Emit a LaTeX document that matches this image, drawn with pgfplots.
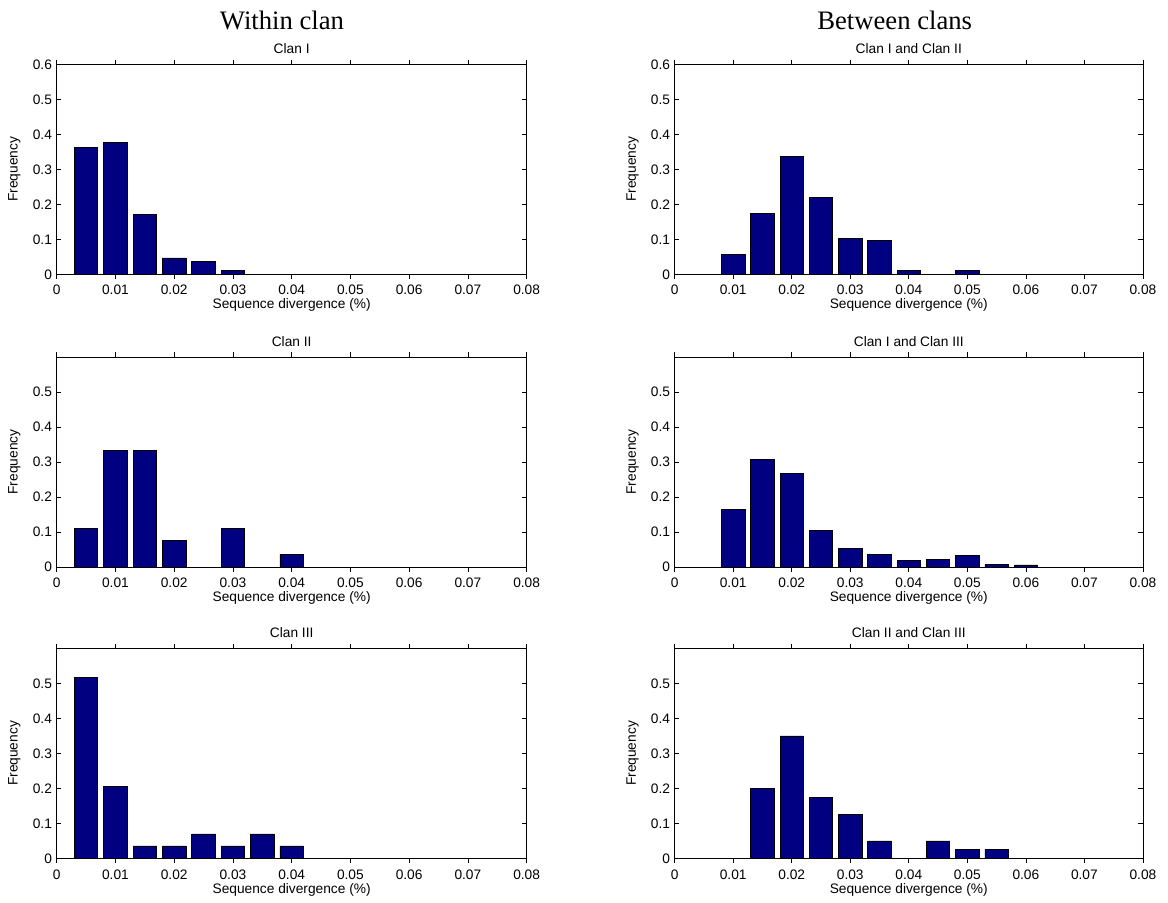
\documentclass[border=0pt]{standalone}
\usepackage{fontspec}
\setmainfont{Liberation Sans}
\newfontfamily\timesfont{Liberation Serif}
\usepackage{pgfplots}
\pgfplotsset{compat=1.18}
\definecolor{barblue}{RGB}{0,0,128}
\pgfplotsset{
  every axis title shift=0pt,
  hp/.style={
    scale only axis,
    height=157.5pt,
    xmin=0, xmax=0.08, ymin=0, ymax=0.6,
    scaled ticks=false,
    xtick={0,0.01,0.02,0.03,0.04,0.05,0.06,0.07,0.08},
    xticklabels={0,0.01,0.02,0.03,0.04,0.05,0.06,0.07,0.08},
    tick align=inside,
    major tick length=3.5pt,
    tick style={black, line width=0.5pt},
    axis line style={black, line width=0.6pt},
    font=\fontsize{10.3}{12}\selectfont,
    ticklabel style={font=\fontsize{10.3}{12}\selectfont},
    xticklabel style={anchor=base, yshift=-12pt},
    xlabel={Sequence divergence (\%)},
    ylabel={Frequency},
    xlabel style={at={(axis description cs:0.5,0)}, anchor=base, yshift=-26pt},
    ylabel style={at={(axis description cs:-0.09,0.5)}, anchor=center},
    title style={at={(axis description cs:0.5,1)}, anchor=base, yshift=8pt},
    ybar, bar width=0.004,
    cycle list={{fill=barblue, draw=black, line width=0.5pt}},
  },
  top/.style={ytick={0,0.1,0.2,0.3,0.4,0.5,0.6}, yticklabels={0,0.1,0.2,0.3,0.4,0.5,0.6}},
  low/.style={ytick={0,0.1,0.2,0.3,0.4,0.5}, yticklabels={0,0.1,0.2,0.3,0.4,0.5}},
}
\begin{document}
\begin{tikzpicture}
\path[use as bounding box] (0,0) rectangle (876pt,677.25pt);
\node[anchor=base, font=\timesfont\fontsize{20}{24}\selectfont] at (211.5pt,655pt) {Within clan};
\node[anchor=base, font=\timesfont\fontsize{20}{24}\selectfont] at (671pt,655pt) {Between clans};

% Row 1
\begin{axis}[hp, top, width=352.5pt, at={(42.5pt,471.5pt)}, anchor=south west, title={Clan I}]
\addplot[fill=barblue, draw=black, line width=0.5pt] coordinates {(0.005,0.363) (0.010,0.378) (0.015,0.171) (0.020,0.047) (0.025,0.038) (0.030,0.010)};
\end{axis}
\begin{axis}[hp, top, width=351.2pt, at={(506pt,471.5pt)}, anchor=south west, title={Clan I and Clan II}]
\addplot[fill=barblue, draw=black, line width=0.5pt] coordinates {(0.010,0.056) (0.015,0.174) (0.020,0.337) (0.025,0.220) (0.030,0.102) (0.035,0.097) (0.040,0.010) (0.050,0.010)};
\end{axis}

% Row 2
\begin{axis}[hp, low, width=352.5pt, at={(42.5pt,252pt)}, anchor=south west, title={Clan II}]
\addplot[fill=barblue, draw=black, line width=0.5pt] coordinates {(0.005,0.111) (0.010,0.334) (0.015,0.334) (0.020,0.075) (0.030,0.111) (0.040,0.037)};
\end{axis}
\begin{axis}[hp, low, width=351.2pt, at={(506pt,252pt)}, anchor=south west, title={Clan I and Clan III}]
\addplot[fill=barblue, draw=black, line width=0.5pt] coordinates {(0.010,0.164) (0.015,0.307) (0.020,0.267) (0.025,0.105) (0.030,0.052) (0.035,0.037) (0.040,0.019) (0.045,0.022) (0.050,0.034) (0.055,0.007) (0.060,0.006)};
\end{axis}

% Row 3
\begin{axis}[hp, low, width=352.5pt, at={(42.5pt,33.4pt)}, anchor=south west, title={Clan III}]
\addplot[fill=barblue, draw=black, line width=0.5pt] coordinates {(0.005,0.518) (0.010,0.207) (0.015,0.036) (0.020,0.036) (0.025,0.070) (0.030,0.036) (0.035,0.070) (0.040,0.036)};
\end{axis}
\begin{axis}[hp, low, width=351.2pt, at={(506pt,33.4pt)}, anchor=south west, title={Clan II and Clan III}]
\addplot[fill=barblue, draw=black, line width=0.5pt] coordinates {(0.015,0.200) (0.020,0.350) (0.025,0.175) (0.030,0.125) (0.035,0.050) (0.045,0.050) (0.050,0.025) (0.055,0.025)};
\end{axis}
\end{tikzpicture}
\end{document}
